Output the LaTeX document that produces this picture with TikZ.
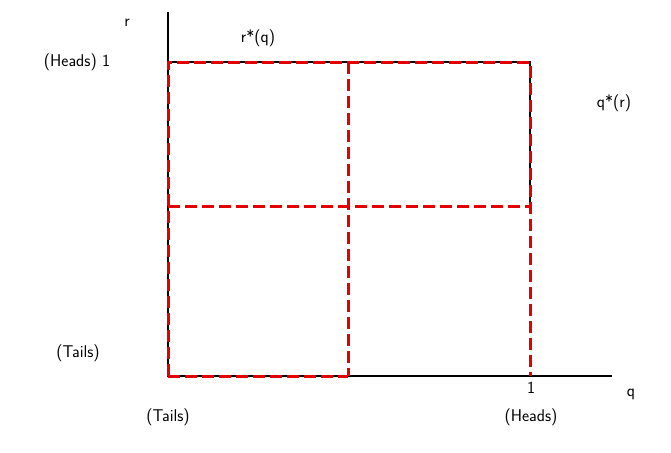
\documentclass[tikz,border=0pt]{standalone}
\usepackage{fontspec}
\begin{document}
\begin{tikzpicture}[x=1pt,y=-1pt,
  lbl/.style={font=\sffamily\fontsize{17}{20}\selectfont,inner sep=0pt},
  ax/.style={black,line width=1.6pt},
  br/.style={black,line width=2.4pt},
  rd/.style={red!90!black,line width=3pt,dash pattern=on 12pt off 5pt}]
\useasboundingbox (0,0) rectangle (671,452);
\coordinate (O) at (168,376);
\coordinate (Yt) at (168,12);
\coordinate (Xe) at (612,376);
\draw[ax] (Yt) -- (O) -- (Xe);
\coordinate (A) at (168,62);
\coordinate (B) at (530,62);
\coordinate (C) at (530,206);
\draw[br] (A) -- (B) -- (C);
\draw[rd] (168,376) -- (168,62) -- (530,62) -- (530,376);
\draw[rd] (168,376) -- (348,376);
\draw[rd] (348,62) -- (348,376);
\draw[rd] (168,206) -- (530,206);
\node[lbl] (r) at (127,23) {r};
\node[lbl] (h1) at (77,62) {(Heads) 1};
\node[lbl] (rq) at (258,38) {r*(q)};
\node[lbl] (qr) at (614,103) {q*(r)};
\node[lbl] (tl) at (78,353) {(Tails)};
\node[lbl] (one) at (531,388) {1};
\node[lbl] (q) at (631,394) {q};
\node[lbl] (tb) at (168,417) {(Tails)};
\node[lbl] (hb) at (531,417) {(Heads)};
\end{tikzpicture}
\end{document}
